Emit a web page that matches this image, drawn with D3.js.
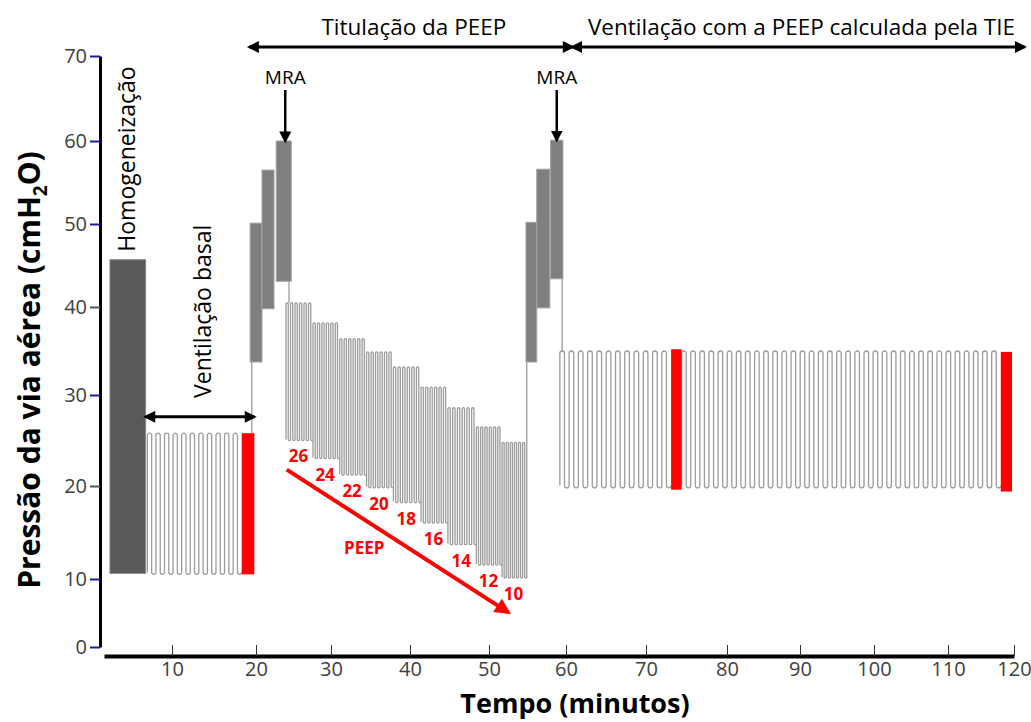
<!DOCTYPE html>
<html>
<head>
<meta charset="utf-8">
<script src="https://cdn.jsdelivr.net/npm/d3@7"></script>
<style>
body { margin: 0; background: #fff; }
text { font-family: "Open Sans", sans-serif; }
</style>
</head>
<body>
<div id="chart"></div>
<script>
// ticks
var yTicks = [0, 10, 20, 30, 40, 50, 60, 70];
var xTicks = [10, 20, 30, 40, 50, 60, 70, 80, 90, 100, 110, 120];

// homogeneização (min, cmH2O)
var homogeneizacao = [{ start: 2.7, end: 6.9, low: 10.6, high: 45.7 }];

// ventilação com ondas: início, fim, PEEP, pico, nº de ciclos
var ventInicio = [7.1, 59.2, 74.4];
var ventFim = [18.3, 73.1, 118.0];
var ventMin = [10.5, 19.8, 19.8];
var ventMax = [25.8, 35.0, 35.0];
var ventCiclos = [11, 12, 35];

// titulação da PEEP (degraus)
var peep = [26, 24, 22, 20, 18, 16, 14, 12, 10];
var titInicio = [24.0, 27.6, 31.1, 34.5, 37.9, 41.4, 44.8, 48.4, 51.7];
var titFim = [27.6, 31.1, 34.5, 37.9, 41.4, 44.8, 48.4, 51.7, 54.9];
var titMin = [25.0, 23.0, 21.2, 19.8, 18.2, 16.0, 13.7, 11.5, 10.1];
var titMax = [40.5, 38.2, 36.4, 34.9, 33.2, 30.9, 28.6, 26.5, 24.8];
var titCiclos = 6;

// manobras de recrutamento alveolar (MRA)
var mraInicio = [19.3, 20.8, 22.7, 54.8, 56.2, 58.0];
var mraFim = [20.8, 22.4, 24.7, 56.2, 57.9, 59.6];
var mraMin = [33.75, 39.8, 43.1, 33.75, 39.9, 43.4];
var mraMax = [50.1, 56.5, 60.0, 50.2, 56.6, 60.1];

// registros da TIE (vermelho)
var tieInicio = [18.3, 73.1, 118.0];
var tieFim = [19.8, 74.4, 119.7];
var tieMin = [10.5, 19.6, 19.4];
var tieMax = [25.8, 35.2, 34.9];

// transições entre fases
var transTempo = [19.5, 24.4, 54.9, 59.5];
var transDe = [25.8, 43.1, 10.1, 43.4];
var transPara = [33.75, 40.5, 33.75, 35.0];

var svg = d3.select("#chart").append("svg")
    .attr("width", 1031)
    .attr("height", 722);

var y = d3.scaleLinear()
    .domain(yTicks)
    .range([647, 579, 486, 395, 307, 224, 141, 56]);

var x = d3.scaleLinear()
    .domain([2].concat(xTicks))
    .range([104, 172, 256, 331, 410, 489, 566, 646, 727, 800, 874, 948, 1014]);

var defs = svg.append("defs");
function marker(id, color, w, h) {
    defs.append("marker")
        .attr("id", id)
        .attr("viewBox", "0 0 10 10")
        .attr("refX", 8)
        .attr("refY", 5)
        .attr("markerWidth", w)
        .attr("markerHeight", h)
        .attr("markerUnits", "userSpaceOnUse")
        .attr("orient", "auto-start-reverse")
        .append("path")
        .attr("d", "M0,0L10,5L0,10z")
        .attr("fill", color);
}
marker("seta", "#000", 13, 12);
marker("setaMra", "#000", 12, 13);
marker("setaVermelha", "#ff0000", 20, 16);

// eixo y
var tickCinza = [20, 40];
var yAxis = svg.append("g")
    .attr("transform", "translate(100,0)")
    .call(d3.axisLeft(y).tickValues(yTicks).tickSizeInner(10).tickSizeOuter(0).tickPadding(3));
yAxis.select(".domain").attr("stroke", "#000").attr("stroke-width", 3);
yAxis.selectAll(".tick line")
    .attr("stroke", d => tickCinza.indexOf(d) >= 0 ? "#555" : "#1c1c99")
    .attr("stroke-width", 2);
yAxis.selectAll(".tick text")
    .attr("fill", "#404040")
    .style("font-size", "20px");

// eixo x
var xAxis = svg.append("g")
    .attr("transform", "translate(0," + (y(0) + 9) + ")")
    .call(d3.axisBottom(x).tickValues(xTicks).tickSizeInner(-11).tickSizeOuter(0).tickPadding(6));
xAxis.select(".domain").attr("stroke", "#000").attr("stroke-width", 4);
xAxis.selectAll(".tick line").attr("stroke", "#333").attr("stroke-width", 1);
xAxis.selectAll(".tick text")
    .attr("fill", "#404040")
    .style("font-size", "20px");

// títulos dos eixos
svg.append("text")
    .attr("transform", "translate(40,370) rotate(-90)")
    .attr("text-anchor", "middle")
    .style("font-size", "30px")
    .style("font-weight", "bold")
    .html('Pressão da via aérea (cmH<tspan dy="7" style="font-size:19px">2</tspan><tspan dy="-7">O)</tspan>');

svg.append("text")
    .attr("x", 575)
    .attr("y", 713)
    .attr("text-anchor", "middle")
    .style("font-size", "27px")
    .style("font-weight", "bold")
    .text("Tempo (minutos)");

// homogeneização
svg.selectAll(".homog")
    .data(homogeneizacao)
    .enter().append("rect")
    .attr("x", d => x(d.start))
    .attr("y", d => y(d.high))
    .attr("width", d => x(d.end) - x(d.start))
    .attr("height", d => y(d.low) - y(d.high))
    .attr("fill", "#595959")
    .attr("stroke", "#8a8a8a")
    .attr("stroke-width", 1);

svg.append("text")
    .attr("transform", "translate(135," + (y(45.7) - 8) + ") rotate(-90)")
    .attr("fill", "#000")
    .style("font-size", "23px")
    .text("Homogeneização");

// ondas de ventilação
function wavePath(x0, x1, yLow, yHigh, n) {
    var p = d3.path();
    var w = (x1 - x0) / n, r = w / 4;
    p.moveTo(x0, yLow - r);
    for (var i = 0; i < n; i++) {
        var xa = x0 + i * w;
        p.lineTo(xa, yHigh + r);
        p.arc(xa + r, yHigh + r, r, Math.PI, 2 * Math.PI);
        p.lineTo(xa + 2 * r, yLow - r);
        p.arc(xa + 3 * r, yLow - r, r, Math.PI, 0, true);
    }
    return p.toString();
}

var ondas = ventInicio.map((s, i) => ({ start: s, end: ventFim[i], low: ventMin[i], high: ventMax[i], n: ventCiclos[i] }));
var degraus = peep.map((p, i) => ({ peep: p, start: titInicio[i], end: titFim[i], low: titMin[i], high: titMax[i], n: titCiclos }));

svg.selectAll(".onda")
    .data(ondas.concat(degraus))
    .enter().append("path")
    .attr("class", "onda")
    .attr("d", d => wavePath(x(d.start), x(d.end), y(d.low), y(d.high), d.n))
    .attr("fill", "none")
    .attr("stroke", "#9c9c9c")
    .attr("stroke-width", 1.3);

// transições
svg.selectAll(".trans")
    .data(transTempo)
    .enter().append("line")
    .attr("x1", d => x(d))
    .attr("x2", d => x(d))
    .attr("y1", (d, i) => y(transDe[i]))
    .attr("y2", (d, i) => y(transPara[i]))
    .attr("stroke", "#9c9c9c")
    .attr("stroke-width", 1.3);

// MRA
svg.selectAll(".mra")
    .data(mraInicio)
    .enter().append("rect")
    .attr("x", d => x(d))
    .attr("y", (d, i) => y(mraMax[i]))
    .attr("width", (d, i) => x(mraFim[i]) - x(d))
    .attr("height", (d, i) => y(mraMin[i]) - y(mraMax[i]))
    .attr("fill", "#7f7f7f")
    .attr("stroke", "#a3a3a3")
    .attr("stroke-width", 1);

// registros TIE
svg.selectAll(".tie")
    .data(tieInicio)
    .enter().append("rect")
    .attr("x", d => x(d))
    .attr("y", (d, i) => y(tieMax[i]))
    .attr("width", (d, i) => x(tieFim[i]) - x(d))
    .attr("height", (d, i) => y(tieMin[i]) - y(tieMax[i]))
    .attr("fill", "#ff0000");

// rótulos PEEP
svg.selectAll(".peepLabel")
    .data(degraus)
    .enter().append("text")
    .attr("x", d => x((d.start + d.end) / 2) - 1)
    .attr("y", d => y(d.low) + 16)
    .attr("dy", "0.35em")
    .attr("text-anchor", "middle")
    .attr("fill", "#ff0000")
    .style("font-size", "17px")
    .style("font-weight", "bold")
    .text(d => d.peep);

svg.append("line")
    .attr("x1", x(24.1)).attr("y1", y(21.8))
    .attr("x2", x(52.5)).attr("y2", y(5.1))
    .attr("stroke", "#ff0000")
    .attr("stroke-width", 4)
    .attr("marker-end", "url(#setaVermelha)");

svg.append("text")
    .attr("x", x(34.2))
    .attr("y", y(13.3))
    .attr("dy", "0.35em")
    .attr("text-anchor", "middle")
    .attr("fill", "#ff0000")
    .style("font-size", "17px")
    .style("font-weight", "bold")
    .text("PEEP");

// ventilação basal
svg.append("line")
    .attr("x1", x(6.9)).attr("x2", x(19.8))
    .attr("y1", y(27.6)).attr("y2", y(27.6))
    .attr("stroke", "#000")
    .attr("stroke-width", 3)
    .attr("marker-start", "url(#seta)")
    .attr("marker-end", "url(#seta)");

svg.append("text")
    .attr("transform", "translate(211,398) rotate(-90)")
    .attr("fill", "#000")
    .style("font-size", "23px")
    .text("Ventilação basal");

// setas MRA
[[23.9, 60.0], [58.8, 60.1]].forEach(function (m) {
    svg.append("line")
        .attr("x1", x(m[0])).attr("x2", x(m[0]))
        .attr("y1", 90).attr("y2", y(m[1]))
        .attr("stroke", "#000")
        .attr("stroke-width", 2.5)
        .attr("marker-end", "url(#setaMra)");
    svg.append("text")
        .attr("x", x(m[0]))
        .attr("y", 84)
        .attr("text-anchor", "middle")
        .attr("fill", "#000")
        .style("font-size", "19px")
        .text("MRA");
});

// fases no topo
var fases = [
    { label: "Titulação da PEEP", start: 19.2, end: 60.8 },
    { label: "Ventilação com a PEEP calculada pela TIE", start: 60.8, end: 121.6 }
];
fases.forEach(function (f) {
    svg.append("line")
        .attr("x1", x(f.start)).attr("x2", x(f.end))
        .attr("y1", 47).attr("y2", 47)
        .attr("stroke", "#000")
        .attr("stroke-width", 3)
        .attr("marker-start", "url(#seta)")
        .attr("marker-end", "url(#seta)");
    svg.append("text")
        .attr("x", (x(f.start) + x(f.end)) / 2 + 3)
        .attr("y", 35)
        .attr("text-anchor", "middle")
        .attr("fill", "#000")
        .style("font-size", "22.5px")
        .text(f.label);
});
</script>
</body>
</html>
